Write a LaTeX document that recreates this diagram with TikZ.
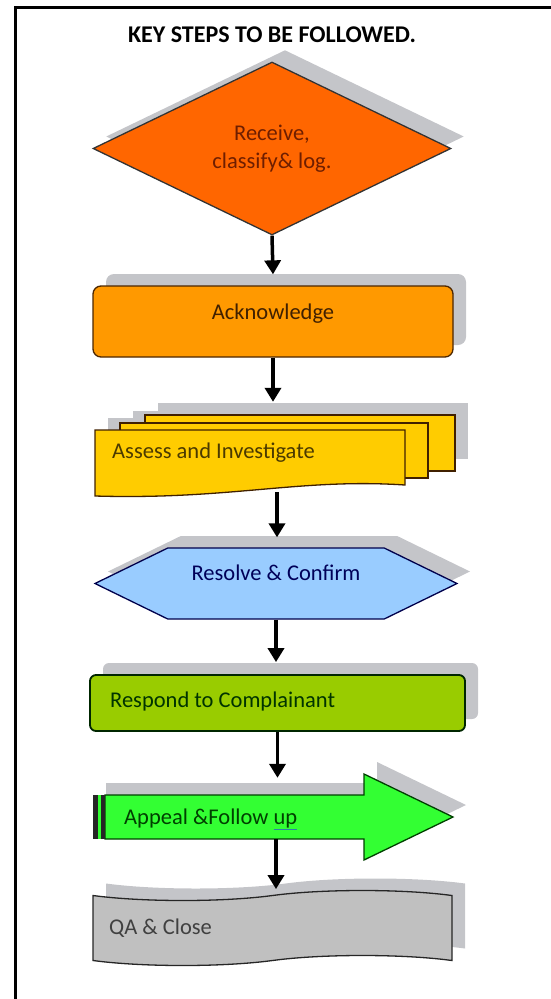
\documentclass[tikz,border=0pt]{standalone}
\usepackage{fontspec}
\setmainfont{Carlito}
\usetikzlibrary{shapes, shapes.geometric, shapes.symbols, arrows.meta, shadows, positioning}

\definecolor{shadowgray}{HTML}{C4C5C9}
\definecolor{receivefill}{HTML}{FF6600}
\definecolor{ackfill}{HTML}{FF9900}
\definecolor{assessfill}{HTML}{FFCC00}
\definecolor{resolvefill}{HTML}{99CCFF}
\definecolor{respondfill}{HTML}{99CC00}
\definecolor{appealfill}{HTML}{33FF33}
\definecolor{qafill}{HTML}{C0C0C0}
\definecolor{upline}{HTML}{2E7FA8}

\begin{document}
\begin{tikzpicture}[x=1pt, y=-1pt, font=\fontsize{22.5}{28}\selectfont, >={Triangle[length=14pt,width=16pt]}]
\tikzstyle{flow}=[->, line width=3.5pt, black]
\tikzstyle{shade}=[drop shadow={shadow xshift=13pt, shadow yshift=12pt, fill=shadowgray, opacity=1}]
\tikzstyle{outline}=[draw=black!80, line width=1.3pt]
\tikzstyle{steptext}=[anchor=west, inner sep=0pt]

\useasboundingbox (0,0) rectangle (551,999);
% frame, top and left only
\draw[line width=3pt] (15,999) -- (15,7) -- (551,7);

\node[font=\fontsize{24}{28}\selectfont\bfseries] (title) at (272,35) {KEY STEPS TO BE FOLLOWED.};

% receive
\node[diamond, outline, fill=receivefill, shade, minimum width=358pt, minimum height=173pt,
      inner sep=0pt, align=center, text={rgb,255:red,110;green,30;blue,0}] (receive) at (272,148.5) {Receive,\\classify\& log.};

% acknowledge
\node[rectangle, rounded corners=8pt, outline, draw=black!70!orange, fill=ackfill, shade,
      minimum width=360pt, minimum height=71pt] (ack) at (273,321.5) {};
\node[text=orange!25!black] (acktext) at ([yshift=8pt]ack.center) {Acknowledge};

% assess, a stack of pages
\fill[shadowgray] (158,403) rectangle (468,459);
\fill[shadowgray] (133,411) rectangle (441,466);
\fill[shadowgray] (108,418) rectangle (418,470);
\draw[outline, draw=black!75!orange, fill=assessfill] (145,415) rectangle (455,471);
\draw[outline, draw=black!75!orange, fill=assessfill] (120,423) rectangle (428,478);
\draw[outline, draw=black!75!orange, fill=assessfill] (95,430) -- (405,430) -- (405,485)
      .. controls (300,478) and (230,500) .. (95,496) -- cycle;
\node[draw=none, rectangle, minimum width=310pt, minimum height=62pt] (assess) at (250,461) {};
\node[steptext, text={rgb,255:red,75;green,58;blue,0}] (assesstext) at (112,453) {Assess and Investigate};

% resolve
\node[signal, signal to=west and east, signal pointer angle=52, outline, draw=blue!30!black,
      fill=resolvefill, shade, minimum width=362pt, minimum height=71pt] (resolve) at (276,583.5) {};
\node[text=blue!35!black] (resolvetext) at ([yshift=11pt]resolve.center) {Resolve \& Confirm};

% respond
\node[rectangle, rounded corners=6pt, draw=green!15!black, line width=1.8pt, fill=respondfill, shade,
      minimum width=375pt, minimum height=56pt] (respond) at (277.5,703) {};
\node[steptext, text=green!20!black] (respondtext) at (110,701) {Respond to Complainant};

% appeal, striped arrow
\fill[shadowgray] (106,783) -- (377,783) -- (377,762) -- (466,805) -- (377,848) -- (377,827) -- (106,827) -- cycle;
\draw[outline, draw=green!25!black, fill=appealfill] (105,795) -- (364,795) -- (364,774) -- (453,817)
      -- (364,860) -- (364,839) -- (105,839) -- cycle;
\fill[appealfill] (93,795) rectangle (105,839);
\fill[black!85] (93,795) rectangle (97.5,839);
\fill[black!85] (101,795) rectangle (105,839);
\node[draw=none, rectangle, minimum width=360pt, minimum height=44pt] (appeal) at (273,817) {};
\node[steptext, text=green!25!black] (appealtext) at (124,819)
      {Appeal \&Follow {\color{upline}\underline{\textcolor{green!25!black}{up}}}};

% qa
\node[tape, tape bend height=10pt, outline, draw=black!85, fill=qafill, shade,
      minimum width=359pt, minimum height=75pt] (qa) at (272.5,928) {};
\node[steptext, text=black!75] (qatext) at (109,928) {QA \& Close};

\draw[flow] (receive.south) -- ([yshift=11pt]ack.north);
\draw[flow] (ack.south) -- ([yshift=28pt]ack.south |- assess.north);
\draw[flow] ([xshift=27pt]assess.south) -- ([xshift=27pt,yshift=10pt]assess.south |- resolve.north);
\draw[flow] (resolve.south) -- ([yshift=12pt]resolve.south |- respond.north);
\draw[flow] (respond.south) -- ([yshift=17pt]respond.south |- appeal.north);
\draw[flow] ([xshift=3pt]appeal.south) -- ([xshift=3pt,yshift=6pt]appeal.south |- qa.north);

\end{tikzpicture}
\end{document}
